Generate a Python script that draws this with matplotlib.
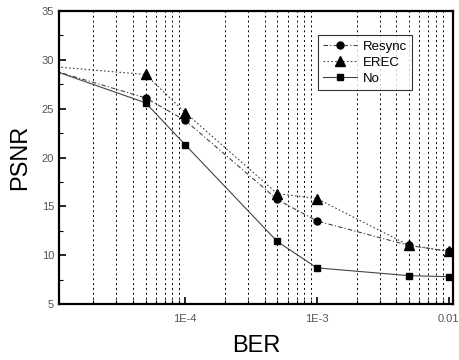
import numpy as np
import matplotlib
matplotlib.use("Agg")
import matplotlib.pyplot as plt
from matplotlib.ticker import LogLocator, FixedLocator, MultipleLocator

plt.rcParams['font.family'] = ['Liberation Sans', 'DejaVu Sans']

# data
ber = [1e-5, 5e-5, 1e-4, 5e-4, 1e-3, 5e-3, 1e-2]
psnr_resync = [28.9, 26.1, 23.8, 15.7, 13.5, 11.0, 10.4]
psnr_erec = [29.3, 28.5, 24.6, 16.3, 15.8, 11.0, 10.4]
psnr_no = [28.9, 25.6, 21.3, 11.4, 8.7, 7.9, 7.8]

xticks = [1e-4, 1e-3, 1e-2]
xticklabels = ['1E-4', '1E-3', '0.01']

fig = plt.figure(figsize=(4.59, 3.6), dpi=100)
ax = fig.add_axes([59 / 459, 1 - 304 / 360, 394 / 459, 293 / 360])

mk = dict(markevery=range(1, len(ber)), markerfacecolor='k',
          markeredgecolor='k', lw=0.8, color='#444444')
ax.plot(ber, psnr_resync, ls=(0, (4, 2, 1, 2)), marker='o', markersize=5,
        label='Resync', **mk)
ax.plot(ber, psnr_erec, ls=(0, (1.5, 2)), marker='^', markersize=6.5,
        label='EREC', **mk)
ax.plot(ber, psnr_no, ls='-', marker='s', markersize=5, label='No', **mk)

ax.set_xscale('log')
ax.set_xlim(1.1e-5, 1.08e-2)
ax.set_ylim(5, 35)

ax.xaxis.set_major_locator(FixedLocator(xticks))
ax.set_xticklabels(xticklabels)
ax.xaxis.set_minor_locator(LogLocator(base=10, subs=np.arange(2, 10)))
ax.yaxis.set_major_locator(MultipleLocator(5))
ax.yaxis.set_minor_locator(MultipleLocator(2.5))

# vertical grid only at the minor positions
ax.grid(True, which='minor', axis='x', color='k', ls=(0, (2, 3)), lw=0.7)
ax.yaxis.set_minor_formatter(plt.NullFormatter())
ax.xaxis.set_minor_formatter(plt.NullFormatter())

ax.tick_params(which='both', direction='in', labelsize=8, labelcolor='#555555',
               top=False, right=False)
ax.tick_params(which='major', length=5, width=1.2)
ax.tick_params(which='minor', length=3, width=0.8)
ax.tick_params(axis='x', pad=7)

for s in ax.spines.values():
    s.set_linewidth(1.6)

ax.set_xlabel('BER', fontsize=17, labelpad=8)
ax.set_ylabel('PSNR', fontsize=17, labelpad=8)

leg = ax.legend(loc='upper left', bbox_to_anchor=(0.64, 0.94), fontsize=9.5,
                frameon=True, fancybox=False, edgecolor='k', handlelength=2.6,
                borderpad=0.4, labelspacing=0.3, handletextpad=0.4)
leg.get_frame().set_linewidth(0.8)

fig.savefig('out.png', dpi=100)
